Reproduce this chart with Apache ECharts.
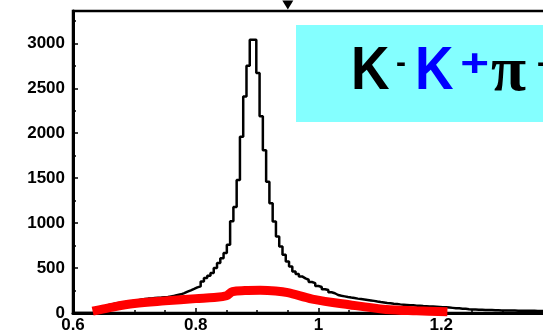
<!DOCTYPE html>
<html>
<head>
<meta charset="utf-8">
<script src="https://cdn.jsdelivr.net/npm/echarts@6/dist/echarts.min.js"></script>
<style>
  html, body { margin: 0; padding: 0; background: #fff; }
  #chart { width: 543px; height: 331px; }
</style>
</head>
<body>
<div id="chart"></div>
<script>
// Histogram binning: first bin edge and bin width (GeV)
const HIST_LO = 0.6;
const HIST_BIN = 0.8 / 150;

// Entries per bin, starting at HIST_LO
const counts = [
  0, 0, 0, 0, 0, 0, 20, 45, 65, 80,
  90, 98, 105, 112, 118, 122, 128, 132, 138, 142,
  150, 156, 160, 162, 166, 170, 172, 176, 178, 185,
  192, 200, 208, 222, 238, 252, 268, 285, 296, 351,
  389, 415, 444, 500, 556, 610, 667, 760, 1020, 1180,
  1480, 1960, 2410, 2750, 3040, 3040, 2670, 2190, 1810, 1460,
  1220, 1018, 851, 740, 648, 573, 518, 462, 435, 407,
  385, 370, 345, 333, 300, 290, 265, 255, 230, 220,
  200, 192, 185, 178, 172, 167, 160, 155, 150, 145,
  140, 135, 128, 122, 117, 112, 108, 103, 100, 96,
  93, 90, 87, 85, 82, 80, 77, 75, 73, 72,
  70, 68, 65, 63, 60, 57, 54, 52, 48, 46,
  42, 40, 38, 36, 35, 34, 33, 32, 31, 30,
  29, 28, 28, 27, 27, 26, 26, 25, 25, 24,
  24, 23, 23, 22
];

// Background estimate (red curve)
const bgMass  = [0.632, 0.66, 0.70, 0.75, 0.80, 0.83, 0.85, 0.86, 0.88, 0.905, 0.93, 0.95, 0.99, 1.05, 1.11, 1.16, 1.21];
const bgCount = [20,    60,   105,  135,  160,  172,  192,  238,  250,  253,   245,  226,  155,  92,   40,   25,   15];

// Axis ticks
const yTicks = [0, 500, 1000, 1500, 2000, 2500, 3000];
const xTicks = [0.6, 0.8, 1, 1.2];
const arrowMass = 0.95;

const Y_MAX = 3360;

// Step outline: each bin's left edge, plus the closing right edge
const histPoints = counts.map((c, i) => [HIST_LO + i * HIST_BIN, c]);
histPoints.push([HIST_LO + counts.length * HIST_BIN, counts[counts.length - 1]]);

const bgPoints = bgMass.map((m, i) => [m, bgCount[i]]);

const labelFont = {
  color: '#000',
  fontFamily: '"Liberation Sans", Arial, sans-serif',
  fontWeight: 'bold',
  fontSize: 17
};

const chart = echarts.init(document.getElementById('chart'), null, { renderer: 'canvas' });

chart.setOption({
  animation: false,
  backgroundColor: '#fff',
  grid: {
    left: 73, top: 11, bottom: 18, right: -21,
    outerBoundsMode: 'none',
    containLabel: false,
    show: true, borderColor: '#000', borderWidth: 2.5,
    backgroundColor: 'transparent'
  },
  xAxis: {
    type: 'value',
    min: 0.6, max: 1.4, interval: 0.2,
    axisLine: { lineStyle: { color: '#000', width: 3 } },
    axisTick: { inside: true, length: 5, lineStyle: { color: '#000', width: 1.5 } },
    minorTick: { show: true, splitNumber: 4, length: 3, lineStyle: { color: '#000', width: 1.5 } },
    splitLine: { show: false },
    axisLabel: Object.assign({
      margin: 4, showMaxLabel: false,
      formatter: v => (xTicks.some(t => Math.abs(t - v) < 1e-9) ? String(+v.toFixed(1)) : '')
    }, labelFont)
  },
  yAxis: {
    type: 'value',
    min: 0, max: Y_MAX, interval: 500,
    axisLine: { show: true, lineStyle: { color: '#000', width: 3 } },
    axisTick: { show: true, inside: true, length: 5, lineStyle: { color: '#000', width: 1.5 } },
    minorTick: { show: true, splitNumber: 2, length: 3, lineStyle: { color: '#000', width: 1.5 } },
    splitLine: { show: false },
    axisLabel: Object.assign({
      margin: 8, showMaxLabel: false,
      formatter: v => (yTicks.indexOf(v) >= 0 ? String(v) : '')
    }, labelFont)
  },
  series: [
    {
      name: 'K-K+π-',
      type: 'line',
      step: 'end',
      data: histPoints,
      symbol: 'none',
      lineStyle: { color: '#000', width: 2.5 },
      z: 2,
      markPoint: {
        silent: true,
        symbol: 'triangle',
        symbolRotate: 180,
        symbolSize: [11, 9],
        symbolOffset: [0, -6],
        itemStyle: { color: '#000' },
        label: { show: false },
        data: [{ coord: [arrowMass, Y_MAX] }]
      }
    },
    {
      name: 'background',
      type: 'line',
      smooth: 0.35,
      data: bgPoints,
      symbol: 'none',
      lineStyle: { color: '#ff0000', width: 9, cap: 'butt' },
      z: 3
    }
  ],
  graphic: [
    {
      type: 'group',
      z: 10,
      children: [
        { type: 'rect', shape: { x: 296, y: 25, width: 260, height: 97 }, style: { fill: '#84ffff' } },
        { type: 'text', x: 351, y: 72.2, scaleX: 0.86,
          style: { text: 'K', font: 'bold 62px "Liberation Sans", Arial, sans-serif', fill: '#000', verticalAlign: 'middle', align: 'left' } },
        { type: 'text', x: 396, y: 64, scaleX: 1,
          style: { text: '-', font: 'bold 30px "Liberation Sans", Arial, sans-serif', fill: '#000', verticalAlign: 'middle', align: 'left' } },
        { type: 'text', x: 415, y: 72.2, scaleX: 0.86,
          style: { text: 'K', font: 'bold 62px "Liberation Sans", Arial, sans-serif', fill: '#0000ff', verticalAlign: 'middle', align: 'left' } },
        { type: 'text', x: 474.7, y: 66, scaleX: 1.3,
          style: { text: '+', font: 'bold 38px "Liberation Sans", Arial, sans-serif', fill: '#0000ff', verticalAlign: 'middle', align: 'center' } },
        { type: 'text', x: 491, y: 73.4,
          style: { text: 'π', font: 'bold 64px "Liberation Serif", "DejaVu Serif", serif', fill: '#000', verticalAlign: 'middle', align: 'left' } },
        { type: 'text', x: 537, y: 64,
          style: { text: '-', font: 'bold 30px "Liberation Sans", Arial, sans-serif', fill: '#000', verticalAlign: 'middle', align: 'left' } }
      ]
    }
  ]
});
</script>
</body>
</html>
